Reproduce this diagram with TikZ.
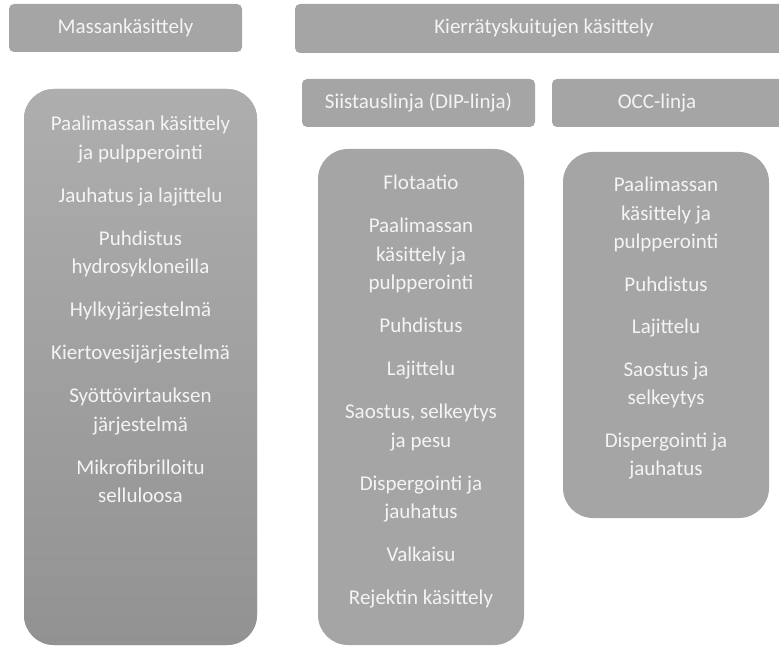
\documentclass[tikz,border=0pt]{standalone}
\usepackage{fontspec}
\setmainfont{Carlito}
\definecolor{boxgray}{HTML}{A5A5A5}
\definecolor{gradtop}{HTML}{AEAEAE}
\definecolor{gradbot}{HTML}{929292}
\definecolor{txt}{HTML}{F4F4F4}
\begin{document}
\begin{tikzpicture}[x=1pt,y=-1pt,
  every node/.style={inner sep=0pt, outer sep=0pt},
  headbox/.style={fill=boxgray, rounded corners=5pt, anchor=north west, text=txt,
    font=\fontsize{21pt}{24pt}\selectfont},
  tallbox/.style={fill=boxgray, rounded corners=30pt, anchor=north west},
  itemlist/.style={anchor=north, align=center, text=txt,
    font=\fontsize{21pt}{28.5pt}\selectfont},
  lbl/.style={text=txt, font=\fontsize{21pt}{24pt}\selectfont}]
\useasboundingbox (0,0) rectangle (779,647);
\clip (0,0) rectangle (779,647);

% column headers
\node[headbox, minimum width=233pt, minimum height=48pt] (hmassa) at (9,4) {Massankäsittely};
\node[headbox, minimum width=498pt, minimum height=49pt] (hkierr) at (295,4) {Kierrätyskuitujen käsittely};
\node[headbox, minimum width=233pt, minimum height=48pt] (hdip) at (302,79) {Siistauslinja (DIP-linja)};
\node[headbox, minimum width=233pt, minimum height=48pt] (hocc) at (552,79) {};
\node[lbl] (hocctxt) at (657,103) {OCC-linja};

% process boxes
\node[tallbox, top color=gradtop, bottom color=gradbot, minimum width=233pt, minimum height=556pt] (bmassa) at (24,89) {};
\node[tallbox, minimum width=206pt, minimum height=496pt] (bdip) at (318,149) {};
\node[tallbox, minimum width=206pt, minimum height=366pt] (bocc) at (563,152) {};

% process steps
\node[itemlist] (lmassa) at (140.5,116) {Paalimassan käsittely\\ja pulpperointi\\[14.5pt]
  Jauhatus ja lajittelu\\[14.5pt]
  Puhdistus\\hydrosykloneilla\\[14.5pt]
  Hylkyjärjestelmä\\[14.5pt]
  Kiertovesijärjestelmä\\[14.5pt]
  Syöttövirtauksen\\järjestelmä\\[14.5pt]
  Mikrofibrilloitu\\selluloosa};
\node[itemlist] (ldip) at (421,175) {Flotaatio\\[14.5pt]
  Paalimassan\\käsittely ja\\pulpperointi\\[14.5pt]
  Puhdistus\\[14.5pt]
  Lajittelu\\[14.5pt]
  Saostus, selkeytys\\ja pesu\\[14.5pt]
  Dispergointi ja\\jauhatus\\[14.5pt]
  Valkaisu\\[14.5pt]
  Rejektin käsittely};
\node[itemlist] (locc) at (666,177) {Paalimassan\\käsittely ja\\pulpperointi\\[14pt]
  Puhdistus\\[14pt]
  Lajittelu\\[14pt]
  Saostus ja\\selkeytys\\[14pt]
  Dispergointi ja\\jauhatus};
\end{tikzpicture}
\end{document}
